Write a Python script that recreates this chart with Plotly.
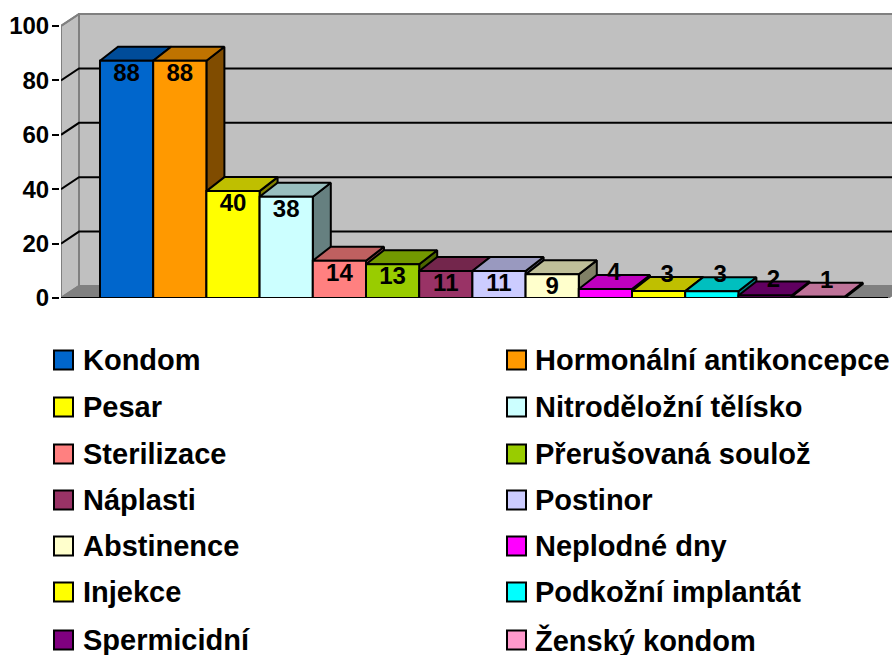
import plotly.graph_objects as go

categories = ["Kondom", "Hormonální antikoncepce", "Pesar", "Nitroděložní tělísko",
              "Sterilizace", "Přerušovaná soulož", "Náplasti", "Postinor",
              "Abstinence", "Neplodné dny", "Injekce", "Podkožní implantát",
              "Spermicidní", "Ženský kondom"]
labels = [88, 88, 40, 38, 14, 13, 11, 11, 9, 4, 3, 3, 2, 1]
heights = [87.2, 87.2, 39.3, 37.2, 13.7, 12.4, 9.9, 9.9, 8.7, 3.3, 2.6, 2.5, 0.9, 0.5]
colors = ["#0066CC", "#FF9900", "#FFFF00", "#CCFFFF", "#FF8080", "#99CC00", "#993366",
          "#CCCCFF", "#FFFFCC", "#FF00FF", "#FFFF00", "#00FFFF", "#800080", "#FF99CC"]
y_ticks = [0, 20, 40, 60, 80, 100]

W, H = 892, 655
PL, PT, PB = 61, 10, 298         # plot box in pixels
PX_Y = 2.72                      # pixels per value unit
PX_X = 53.2                      # pixels per category
X0_PX = 100                      # left edge of first bar
FONT = "Liberation Sans"


def dx(px):
    return px / PX_X


def dy(px):
    return px / PX_Y


x_lo = -0.5 - (X0_PX - PL) / PX_X
x_hi = -0.5 + (W - X0_PX) / PX_X
y_hi = (PB - PT) / PX_Y
WX, WY = dx(18), dy(12)          # wall depth
BX, BY = dx(18), dy(14)          # bar depth


def shade(col, f):
    r, g, b = (int(col[i:i + 2], 16) for i in (1, 3, 5))
    return f"rgb({round(r * f)},{round(g * f)},{round(b * f)})"


def poly(xs, ys, fill, line, width=2, z=0):
    return go.Scatter(x=xs, y=ys, mode="lines", fill="toself", fillcolor=fill,
                      line=dict(color=line, width=width), hoverinfo="skip",
                      showlegend=False, zorder=z)


def seg(xs, ys, col, width=2, z=0):
    return go.Scatter(x=xs, y=ys, mode="lines", line=dict(color=col, width=width),
                      hoverinfo="skip", showlegend=False, zorder=z)


fig = go.Figure()
top = max(y_ticks)
wx0 = x_lo + WX
# side wall, back wall, floor
fig.add_trace(poly([x_lo, wx0, wx0, x_lo, x_lo], [0, WY, top + WY, top, 0], "#C0C0C0", "#808080"))
fig.add_trace(poly([wx0, x_hi + 1, x_hi + 1, wx0, wx0], [WY, WY, top + WY, top + WY, WY], "#C0C0C0", "#808080"))
x_fr = x_lo + dx(888 - PL)
fig.add_trace(poly([x_lo, wx0, x_fr + WX, x_fr, x_lo], [0, WY, WY, 0, 0], "#808080", "#808080"))
# gridlines
for t in y_ticks[1:-1]:
    fig.add_trace(seg([x_lo, wx0, x_hi + 1], [t, t + WY, t + WY], "#000000"))
fig.add_trace(seg([x_lo, wx0], [top, top + WY], "#808080"))
fig.add_trace(seg([x_lo, x_fr], [0, 0], "#000000", z=200))

# bars: depth faces then front, left to right
for i, (v, c, name) in enumerate(zip(heights, colors, categories)):
    l, r = i - 0.5, i + 0.5
    z = 2 * i + 1
    fig.add_trace(poly([r, r + BX, r + BX, r, r], [0, BY, v + BY, v, 0], shade(c, 0.5), "#000000", z=z))
    fig.add_trace(poly([l, l + BX, r + BX, r, l], [v, v + BY, v + BY, v, v], shade(c, 0.75), "#000000", z=z))
    fig.add_trace(go.Bar(x=[i], y=[v], width=1, name=name, showlegend=False,
                         marker=dict(color=c, line=dict(color="#000000", width=2)),
                         hovertemplate=name + ": %{y}<extra></extra>", zorder=z + 1))

# value labels
lx, ly = [], []
for i, (v, lab) in enumerate(zip(heights, labels)):
    if lab >= 9:
        lx.append(i)
        ly.append(v - dy(14))
    else:
        lx.append(i + dx(8.5))
        ly.append(v + dy(15))
fig.add_trace(go.Scatter(x=lx, y=ly, mode="text", text=[str(a) for a in labels],
                         textposition="middle center", cliponaxis=False,
                         textfont=dict(family=FONT, size=24, color="#000000", weight="bold"),
                         hoverinfo="skip", showlegend=False, zorder=100))

# legend, laid out in two columns
shapes, annos = [], []
COLS = [(54, 83), (507, 535)]
ROWS = [360, 407, 454, 500, 546, 592, 640]
SW = 19
for i, (name, c) in enumerate(zip(categories, colors)):
    sx, tx = COLS[i % 2]
    cy = ROWS[i // 2]
    shapes.append(dict(type="rect", xref="paper", yref="paper",
                       x0=(sx - PL) / (W - PL), x1=(sx + SW - PL) / (W - PL),
                       y0=(PB - (cy - SW / 2)) / (PB - PT), y1=(PB - (cy + SW / 2)) / (PB - PT),
                       fillcolor=c, line=dict(color="#000000", width=2)))
    annos.append(dict(text=f"<b>{name}</b>", xref="paper", yref="paper",
                      x=(tx - PL) / (W - PL), y=(PB - cy) / (PB - PT),
                      xanchor="left", yanchor="middle", showarrow=False, xshift=-2,
                      font=dict(family=FONT, size=29, color="#000000")))

fig.update_layout(
    width=W, height=H, showlegend=False, barmode="overlay",
    margin=dict(l=PL, r=0, t=PT, b=H - PB, pad=0),
    paper_bgcolor="#FFFFFF", plot_bgcolor="#FFFFFF",
    shapes=shapes, annotations=annos,
    xaxis=dict(range=[x_lo, x_hi], visible=False, showgrid=False),
    yaxis=dict(range=[0, y_hi], tickvals=y_ticks, showgrid=False, zeroline=False,
               showline=True, linecolor="#000000", linewidth=2,
               ticks="outside", ticklen=7, tickwidth=2, tickcolor="#000000",
               ticklabelstandoff=-2,
               tickfont=dict(family=FONT, size=24, color="#000000", weight="bold")),
    font=dict(family=FONT),
)
fig.write_html("out.html", post_script="document.body.style.margin='0';",
               config={"displayModeBar": False})
